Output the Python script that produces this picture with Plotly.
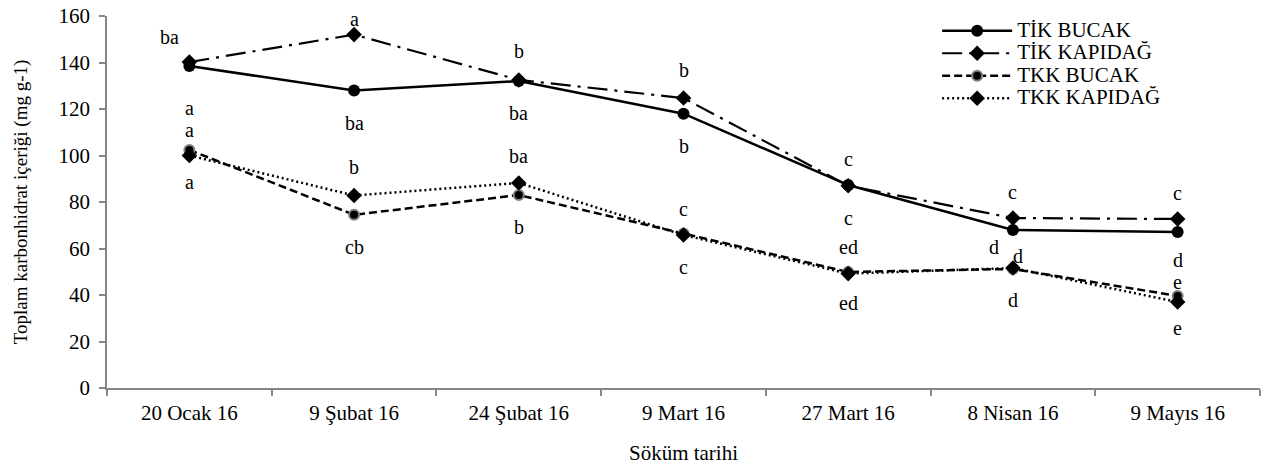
import plotly.graph_objects as go

categories = ["20 Ocak 16", "9 Şubat 16", "24 Şubat 16", "9 Mart 16", "27 Mart 16", "8 Nisan 16", "9 Mayıs 16"]

tik_bucak = [138.5, 128.0, 132.0, 118.0, 87.3, 68.0, 67.1]
tik_kapidag = [140.2, 152.0, 132.5, 124.7, 87.0, 73.1, 72.7]
tkk_bucak = [102.4, 74.5, 83.0, 66.5, 49.9, 51.2, 39.6]
tkk_kapidag = [100.0, 82.8, 88.2, 65.8, 49.2, 51.6, 37.0]

letters_tik_bucak = ["a", "ba", "ba", "b", "c", "d", "d"]
letters_tik_kapidag = ["ba", "a", "b", "b", "c", "c", "c"]
letters_tkk_bucak = ["a", "cb", "b", "c", "ed", "d", "e"]
letters_tkk_kapidag = ["a", "b", "ba", "c", "ed", "d", "e"]

series_names = ["TİK BUCAK", "TİK KAPIDAĞ", "TKK BUCAK", "TKK KAPIDAĞ"]

# label placement offsets (pixels)
yshift_tik_bucak = [-42, -33, -32, -32, -33, -17, -28]
xshift_tik_bucak = [0, 0, 0, 0, 0, -19, 0]
yshift_tik_kapidag = [25, 16, 29, 28, 27, 26, 26]
xshift_tik_kapidag = [-20, 0, 0, 0, 0, 0, 0]
yshift_tkk_bucak = [20, -32, -32, 24, 25, 13, 14]
xshift_tkk_bucak = [0, 0, 0, 0, 0, 5, 0]
yshift_tkk_kapidag = [-26, 28, 27, -32, -29, -32, -26]
xshift_tkk_kapidag = [0, 0, 0, 0, 0, 0, 0]

FONT = "Liberation Serif, Times New Roman, serif"

fig = go.Figure()
fig.add_trace(go.Scatter(x=categories, y=tik_bucak, name=series_names[0], mode="lines+markers",
                         line=dict(color="black", width=2.5),
                         marker=dict(symbol="circle", size=12, color="black")))
fig.add_trace(go.Scatter(x=categories, y=tik_kapidag, name=series_names[1], mode="lines+markers",
                         line=dict(color="black", width=2.2, dash="20px,7px,3px,7px"),
                         marker=dict(symbol="diamond", size=12, color="black")))
fig.add_trace(go.Scatter(x=categories, y=tkk_bucak, name=series_names[2], mode="lines+markers",
                         line=dict(color="black", width=2.5, dash="8px,4px"),
                         marker=dict(symbol="circle", size=10, color="black", line=dict(color="#808080", width=2))))
fig.add_trace(go.Scatter(x=categories, y=tkk_kapidag, name=series_names[3], mode="lines+markers",
                         line=dict(color="black", width=2.5, dash="2px,3px"),
                         marker=dict(symbol="diamond", size=12, color="black")))

# legend entries rendered with larger text than the legend row height font
for tr in fig.data:
    tr.name = '<span style="font-size:21px">' + tr.name + '</span>'

groups = [
    (tik_bucak, letters_tik_bucak, xshift_tik_bucak, yshift_tik_bucak),
    (tik_kapidag, letters_tik_kapidag, xshift_tik_kapidag, yshift_tik_kapidag),
    (tkk_bucak, letters_tkk_bucak, xshift_tkk_bucak, yshift_tkk_bucak),
    (tkk_kapidag, letters_tkk_kapidag, xshift_tkk_kapidag, yshift_tkk_kapidag),
]
for vals, lets, xs, ys in groups:
    for c, v, t, dx, dy in zip(categories, vals, lets, xs, ys):
        fig.add_annotation(x=c, y=v, text=t, showarrow=False, xshift=dx, yshift=dy,
                           font=dict(family=FONT, size=20, color="black"))

fig.update_layout(
    width=1264, height=465,
    margin=dict(l=107, r=4, t=16, b=77, autoexpand=False),
    paper_bgcolor="white", plot_bgcolor="white",
    font=dict(family=FONT, size=21, color="black"),
    showlegend=True,
    legend=dict(x=0.72, y=1.004, xanchor="left", yanchor="top",
                bgcolor="rgba(0,0,0,0)",
                font=dict(family=FONT, size=15, color="black"), tracegroupgap=0, itemwidth=70),
    xaxis=dict(type="category", range=[-0.5, 6.5], showline=True, linecolor="#868686", linewidth=1.5,
               ticks="outside", tickson="boundaries", ticklen=6, tickcolor="#868686", tickwidth=1.5,
               ticklabelstandoff=5,
               showgrid=False, zeroline=False, automargin=False,
               title=dict(text="Söküm tarihi", standoff=21, font=dict(family=FONT, size=21, color="black")),
               tickfont=dict(family=FONT, size=21, color="black")),
    yaxis=dict(range=[0, 160], dtick=20, showline=True, linecolor="#868686", linewidth=1.5,
               ticks="outside", ticklen=6, tickcolor="#868686", tickwidth=1.5,
               ticklabelstandoff=5,
               showgrid=False, zeroline=False, automargin=False,
               title=dict(text="Toplam karbonhidrat içeriği (mg g-1)", standoff=26,
                          font=dict(family=FONT, size=19, color="black")),
               tickfont=dict(family=FONT, size=21, color="black")),
)

fig.write_html("out.html", config={"displayModeBar": False},
               post_script="document.body.style.margin='0';")
